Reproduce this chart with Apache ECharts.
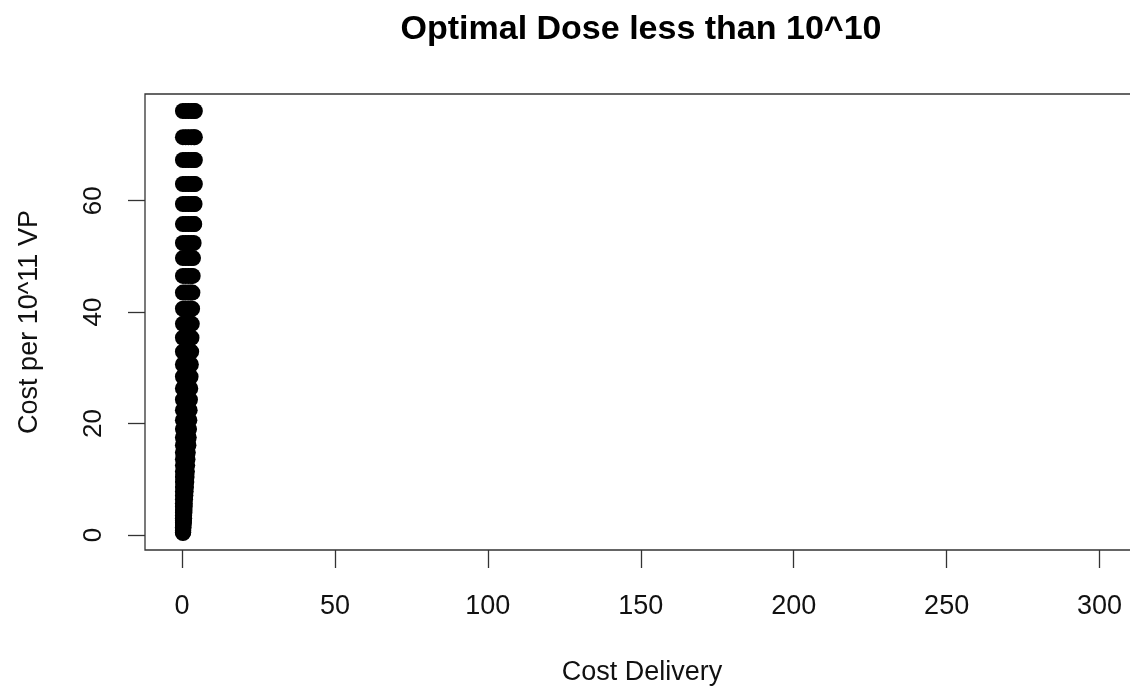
<!DOCTYPE html>
<html>
<head>
<meta charset="utf-8">
<script src="https://cdn.jsdelivr.net/npm/echarts@6/dist/echarts.min.js"></script>
<style>
html,body{margin:0;padding:0;background:#fff;overflow:hidden;width:1130px;height:693px;}
#chart{width:1143px;height:693px;}
</style>
</head>
<body>
<div id="chart"></div>
<script>
// ---- data ----
var chartTitle = 'Optimal Dose less than 10^10';
var xTitle = 'Cost Delivery';
var yTitle = 'Cost per 10^11 VP';
var xTicks = [0, 50, 100, 150, 200, 250, 300];
var yTicks = [0, 20, 40, 60];
// y level of each row of points (Cost per 10^11 VP)
var costPer = [76.1, 71.4, 67.3, 63.0, 59.4, 55.8, 52.4, 49.7, 46.5, 43.5, 40.6, 37.9,
  35.4, 32.9, 30.6, 28.4, 26.3, 24.3, 22.4, 20.6, 19.0, 17.5, 16.1, 14.8, 13.6, 12.5,
  11.4, 10.4, 9.5, 8.6, 7.8, 7.1, 6.4, 5.7, 5.1, 4.5, 4.0, 3.5, 3.0, 2.6, 2.2, 1.8,
  1.4, 1.1, 0.8, 0.5, 0.35];
// Cost Delivery values found on each row
var deliveryRows = [
  [0.3, 1.2, 2.1, 3.0, 3.9, 4.2], [0.3, 1.2, 2.1, 3.0, 3.9, 4.2], [0.3, 1.2, 2.1, 3.0, 3.9, 4.2],
  [0.3, 1.2, 2.1, 3.0, 3.9, 4.2], [0.3, 1.2, 2.1, 3.0, 3.9, 4.1], [0.3, 1.2, 2.1, 3.0, 3.9, 4.0],
  [0.3, 1.2, 2.1, 3.0, 3.8],
  [0.3, 1.2, 2.1, 3.0, 3.6], [0.3, 1.2, 2.1, 3.0, 3.5], [0.3, 1.1, 2.0, 2.8, 3.4],
  [0.3, 1.1, 2.0, 2.8, 3.3], [0.3, 1.1, 2.0, 2.8, 3.2],
  [0.3, 1.1, 1.9, 2.7, 3.1], [0.3, 1.1, 1.9, 2.7, 3.0], [0.3, 1.1, 1.9, 2.6, 2.9],
  [0.3, 1.0, 1.8, 2.5, 2.8], [0.3, 1.0, 1.8, 2.4, 2.7],
  [0.3, 1.0, 1.7, 2.3, 2.6], [0.3, 1.0, 1.7, 2.2, 2.5], [0.3, 1.0, 1.6, 2.1, 2.4],
  [0.3, 0.9, 1.5, 2.0, 2.3], [0.3, 0.9, 1.5, 2.0, 2.2], [0.3, 0.9, 1.5, 1.9, 2.1],
  [0.3, 0.9, 1.4, 1.9], [0.3, 0.9, 1.4, 1.8], [0.3, 0.9, 1.3, 1.7],
  [0.3, 0.8, 1.3, 1.6], [0.3, 0.8, 1.2, 1.5], [0.3, 0.8, 1.2, 1.4], [0.3, 0.8, 1.1, 1.3],
  [0.3, 0.7, 1.0, 1.2], [0.3, 0.7, 1.0, 1.1], [0.3, 0.7, 1.0], [0.3, 0.7, 0.9],
  [0.3, 0.6, 0.9], [0.3, 0.6, 0.8], [0.3, 0.6, 0.8], [0.3, 0.6, 0.7], [0.3, 0.5, 0.7],
  [0.3, 0.5, 0.6], [0.3, 0.5, 0.6], [0.3, 0.5], [0.3, 0.5], [0.3, 0.4], [0.3, 0.4],
  [0.3, 0.4], [0.3]
];

var points = [];
costPer.forEach(function (y, i) {
  deliveryRows[i].forEach(function (x) { points.push([x, y]); });
});

var FONT = '"Liberation Sans", Arial, Helvetica, sans-serif';
var chart = echarts.init(document.getElementById('chart'), null, {renderer: 'canvas'});
chart.setOption({
  animation: false,
  backgroundColor: '#fff',
  grid: {
    left: 145, top: 94, right: 0, bottom: 143,
    show: true, borderColor: '#333', borderWidth: 1.3, backgroundColor: 'transparent'
  },
  xAxis: {
    type: 'value', min: -12.1, max: 314.2,
    splitLine: {show: false},
    axisLine: {show: false, onZero: false},
    axisTick: {show: true, customValues: xTicks, length: 18, inside: false,
      lineStyle: {color: '#333', width: 1.3}},
    axisLabel: {show: true, customValues: xTicks, margin: 43,
      color: '#111', fontSize: 27, fontFamily: FONT}
  },
  yAxis: {
    type: 'value', min: -2.7, max: 79.15,
    splitLine: {show: false},
    axisLine: {show: false, onZero: false},
    axisTick: {show: true, customValues: yTicks, length: 17, inside: false,
      lineStyle: {color: '#333', width: 1.3}},
    axisLabel: {show: true, customValues: yTicks, margin: 38, rotate: 90,
      color: '#111', fontSize: 26, fontFamily: FONT}
  },
  graphic: [
    {type: 'text', style: {text: chartTitle, font: 'bold 34px ' + FONT, fill: '#000',
      textAlign: 'center', textVerticalAlign: 'middle'}, x: 641, y: 30, z: 10},
    {type: 'text', style: {text: xTitle, font: '27px ' + FONT, fill: '#111',
      textAlign: 'center', textVerticalAlign: 'middle'}, x: 642, y: 673},
    {type: 'text', style: {text: yTitle, font: '27px ' + FONT, fill: '#111',
      textAlign: 'center', textVerticalAlign: 'middle'}, x: 30, y: 322, rotation: Math.PI / 2}
  ],
  series: [{
    type: 'scatter',
    data: points,
    symbol: 'circle',
    symbolSize: 16,
    itemStyle: {color: '#000', opacity: 1},
    clip: false
  }]
});
</script>
</body>
</html>
